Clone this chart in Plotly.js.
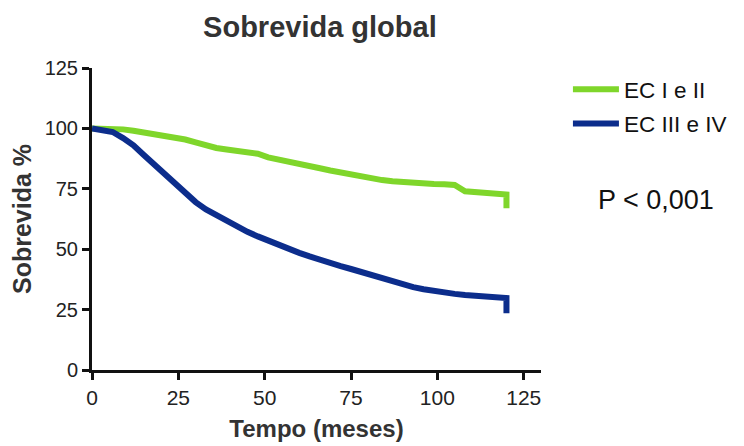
<!DOCTYPE html>
<html>
<head>
<meta charset="utf-8">
<script src="https://cdn.plot.ly/plotly-3.0.1.min.js"></script>
<style>html,body{margin:0;padding:0;background:#fff;}#chart{width:744px;height:446px;}</style>
</head>
<body>
<div id="chart"></div>
<script>
// Tempo (meses)
const monthsEarly = [0,3,6,9,12,15,18,21,24,27,30,33,36,39,42,45,48,51,54,57,60,63,66,69,72,75,78,81,84,87,90,93,96,99,102,105,108,111,114,117,120,120];
const monthsLate  = [0,3,6,9,12,15,18,21,24,27,30,33,36,39,42,45,48,51,54,57,60,63,66,69,72,75,78,81,84,87,90,93,96,99,102,105,108,111,114,117,120,120];
// Sobrevida % - EC I e II
const survEarly = [100,100,100,99.6,99,98.4,97.6,96.9,96.2,95.4,94.2,92.8,91.9,91.3,90.8,90.3,89.5,88,87.2,86.5,85.5,84.5,83.5,82.6,81.8,80.7,79.8,79.2,78.6,78.1,77.7,77.4,77.2,77,76.9,76.6,74,73.6,73.3,73,72.6,67];
// Sobrevida % - EC III e IV
const survLate = [100,99.5,98.5,96,93,89,85,81,77,73,69.5,66.5,64,61.5,59.5,57.2,55.3,53.5,51.8,50,48.5,47,45.5,44.2,43,41.8,40.5,39,37.8,36.5,35.3,34.3,33.4,32.6,32,31.5,31,30.7,30.4,30.1,29.8,23.5];
const seriesNames = ["EC I e II","EC III e IV"];
const xTicks = [0,25,50,75,100,125];
const yTicks = [0,25,50,75,100,125];

const FONT = "Liberation Sans, Arial, Helvetica, sans-serif";

const traces = [
  {x: monthsEarly, y: survEarly, name: seriesNames[0], type: "scatter", mode: "lines",
   line: {color: "#7fd62b", width: 6}, legendgroup: "a"},
  {x: monthsLate, y: survLate, name: seriesNames[1], type: "scatter", mode: "lines",
   line: {color: "#0c2d8c", width: 6}, legendgroup: "b"}
];

const layout = {
  width: 744, height: 446,
  margin: {l: 92, r: 203, t: 68, b: 76},
  paper_bgcolor: "#fff", plot_bgcolor: "#fff",
  font: {family: FONT, color: "#222"},
  title: {text: "<b>Sobrevida global</b>", font: {size: 29, color: "#333", family: FONT},
          x: 0.43, xanchor: "center", y: 0.94, yanchor: "middle", xref: "container", yref: "container"},
  xaxis: {
    range: [0, 130], tickvals: xTicks, ticktext: xTicks.map(String),
    showgrid: false, zeroline: false, showline: true, linecolor: "#111", linewidth: 3,
    ticks: "outside", ticklen: 7, tickwidth: 3, tickcolor: "#111",
    tickfont: {size: 21, color: "#222"},
    title: {text: "<b>Tempo (meses)</b>", font: {size: 24, color: "#333"}, standoff: 12}
  },
  yaxis: {
    range: [0, 125], tickvals: yTicks, ticktext: yTicks.map(String),
    showgrid: false, zeroline: false, showline: true, linecolor: "#111", linewidth: 3,
    ticks: "outside", ticklen: 7, tickwidth: 3, tickcolor: "#111",
    tickfont: {size: 20, color: "#222"},
    title: {text: "<b>Sobrevida %</b>", font: {size: 25, color: "#333"}, standoff: 6}
  },
  showlegend: true,
  legend: {x: 1.06, xanchor: "left", y: 1.0, yanchor: "top", font: {size: 22.5, color: "#111"},
           bgcolor: "rgba(0,0,0,0)", tracegroupgap: 2, traceorder: "grouped", itemwidth: 46},
  annotations: [
    {text: "P < 0,001", xref: "paper", yref: "paper", x: 1.256, y: 0.563, xanchor: "center", yanchor: "middle",
     showarrow: false, font: {size: 27, color: "#111"}}
  ]
};

Plotly.newPlot("chart", traces, layout, {displayModeBar: false, staticPlot: true});
</script>
</body>
</html>
